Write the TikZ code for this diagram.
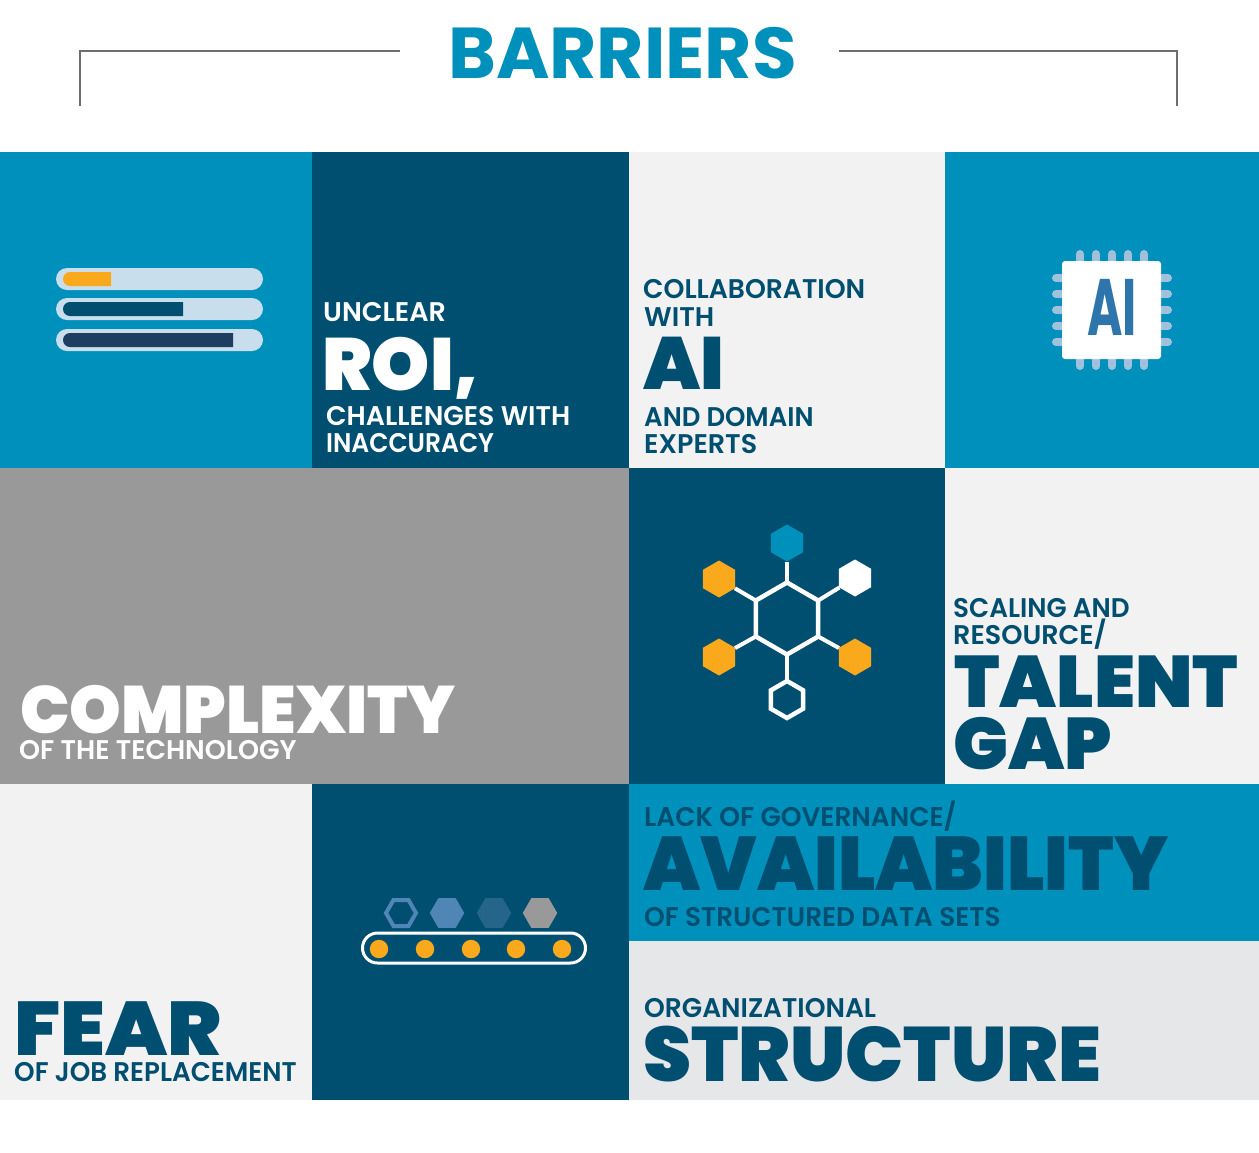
\documentclass[tikz,border=0pt]{standalone}
\usepackage{fontspec}
\usepackage{xcolor}
\setmainfont{Poppins}[BoldFont=* SemiBold]
\newfontfamily\blackfont{Poppins Black}
\newfontfamily\heavyfont{Poppins Bold}
\usetikzlibrary{shapes.geometric,shapes.misc}
\definecolor{tealtile}{HTML}{0090BC}
\definecolor{navytile}{HTML}{004F71}
\definecolor{greytile}{HTML}{999999}
\definecolor{palertile}{HTML}{F2F2F2}
\definecolor{mistile}{HTML}{E6E7E9}
\definecolor{amberdot}{HTML}{F9A91B}
\definecolor{barpale}{HTML}{C8DEED}
\definecolor{barnight}{HTML}{1F3D60}
\definecolor{pinblue}{HTML}{9FC1DE}
\definecolor{chipblue}{HTML}{2E75AB}
\definecolor{hexmid}{HTML}{4F86B5}
\definecolor{hexdeep}{HTML}{25658A}
\definecolor{ruleline}{HTML}{6D6E71}
\tikzset{
  smalltag/.style={anchor=base west,inner sep=0pt,yshift=-0.3pt,font=\bfseries\fontsize{27}{27}\selectfont},
  bigtag/.style={anchor=base west,inner sep=0pt,yshift=-1.5pt,font=\blackfont\fontsize{#1}{#1}\selectfont},
  hexa/.style={regular polygon,regular polygon sides=6,inner sep=0pt,outer sep=0pt,minimum size=#1},
  hexup/.style={hexa=#1,shape border rotate=30},
  bond/.style={draw=white,line width=4pt}
}
\begin{document}
\begin{tikzpicture}[x=1pt,y=-1pt]
    \useasboundingbox (0,0) rectangle (1259,1152);
    \fill[white] (0,0) rectangle (1259,1152);

    % Heading
    \node[anchor=base west,inner sep=0pt,text=tealtile,font=\heavyfont\fontsize{72}{72}\selectfont,xscale=1.008] (title) at (448,78) {BARRIERS};
    \coordinate (ruleA) at (400,50.5);
    \coordinate (ruleB) at (839,50.5);
    \draw[ruleline,line width=2pt] (ruleA) -- (80,50.5) -- (80,106);
    \draw[ruleline,line width=2pt] (ruleB) -- (1177,50.5) -- (1177,106);

    % Tiles
    \fill[tealtile] (0,152) rectangle (312,468);
    \fill[navytile] (312,152) rectangle (629,468);
    \fill[palertile] (629,152) rectangle (945,468);
    \fill[tealtile] (945,152) rectangle (1259,468);
    \fill[greytile] (0,468) rectangle (629,784);
    \fill[navytile] (629,468) rectangle (945,784);
    \fill[palertile] (945,468) rectangle (1259,784);
    \fill[palertile] (0,784) rectangle (312,1100);
    \fill[navytile] (312,784) rectangle (629,1100);
    \fill[tealtile] (629,784) rectangle (1259,941);
    \fill[mistile] (629,941) rectangle (1259,1100);

    % Progress bars
    \foreach \top/\stop/\tint in {268/111/amberdot,298/183/navytile,329/233/barnight} {
        \fill[barpale,rounded corners=11pt] (56,\top) rectangle (263,\top+22);
        \fill[\tint] (\stop,\top+4) [rounded corners=7pt] -- (63,\top+4) -- (63,\top+18) [sharp corners] -- (\stop,\top+18) -- cycle;
    }

    % Chip
    \foreach \k in {0,...,4} {
        \draw[pinblue,line width=8pt,line cap=round] (1080+16*\k,254) -- (1080+16*\k,366);
        \draw[pinblue,line width=8pt,line cap=round] (1056,278+16*\k) -- (1168,278+16*\k);
    }
    \fill[white,rounded corners=3pt] (1062,261) rectangle (1161,359);
    \node[anchor=base west,inner sep=0pt,text=chipblue,font=\heavyfont\fontsize{80}{80}\selectfont,xscale=.6] (chiptext) at (1087,335) {AI};

    % Molecule
    \node[hexup=72pt,draw=white,line width=4.5pt] (core) at (787,618.5) {};
    \node[hexup=37pt,fill=tealtile] (hexN) at (787,543) {};
    \node[hexup=37pt,fill=amberdot] (hexNW) at (719,579) {};
    \node[hexup=37pt,fill=white] (hexNE) at (855,578) {};
    \node[hexup=37pt,fill=amberdot] (hexSW) at (719,657) {};
    \node[hexup=37pt,fill=amberdot] (hexSE) at (855,657) {};
    \node[hexup=37pt,draw=white,line width=4.5pt] (hexS) at (787,699.5) {};
    \draw[bond] (core.corner 1) -- (hexN);
    \draw[bond] (core.corner 2) -- (hexNW);
    \draw[bond] (core.corner 3) -- (hexSW);
    \draw[bond] (core.corner 4) -- (hexS);
    \draw[bond] (core.corner 5) -- (hexSE);
    \draw[bond] (core.corner 6) -- (hexNE);

    % Conveyor
    \node[hexa=30pt,draw=hexmid,line width=4pt] (boxA) at (401,913) {};
    \node[hexa=34.5pt,fill=hexmid] (boxB) at (447,913) {};
    \node[hexa=34.5pt,fill=hexdeep] (boxC) at (494,913) {};
    \node[hexa=34.5pt,fill=greytile] (boxD) at (540,913) {};
    \draw[white,line width=3pt,rounded corners=15pt] (362.5,933) rectangle (585.5,963);
    \foreach \xc in {379,425,471,516,562}
        \fill[amberdot] (\xc,949) circle (9.2);

    % Unclear ROI
    \node[smalltag,text=white] (roiA) at (323,321) {UNCLEAR};
    \node[bigtag=74,text=white,xscale=1.0] (roiB) at (322,389) {ROI,};
    \node[smalltag,text=white,xscale=.99] (roiC) at (326,425) {CHALLENGES WITH};
    \node[smalltag,text=white,xscale=.925] (roiD) at (326,452) {INACCURACY};

    % Collaboration
    \node[smalltag,text=navytile,xscale=.985] (aiA) at (643,298) {COLLABORATION};
    \node[smalltag,text=navytile] (aiB) at (644,326) {WITH};
    \node[bigtag=74,text=navytile] (aiC) at (643,388) {AI};
    \node[smalltag,text=navytile,xscale=.96] (aiD) at (644,426) {AND DOMAIN};
    \node[smalltag,text=navytile] (aiE) at (644,453) {EXPERTS};

    % Complexity
    \node[bigtag=67,text=white,xscale=.98] (cxA) at (20,732) {COMPLEXITY};
    \node[smalltag,text=white,xscale=.99] (cxB) at (19,759) {OF THE TECHNOLOGY};

    % Talent gap
    \node[smalltag,text=navytile,xscale=.97] (gapA) at (953,617) {SCALING AND};
    \node[smalltag,text=navytile] (gapB) at (953,644) {RESOURCE/};
    \node[bigtag=73,text=navytile,xscale=1.012] (gapC) at (954,706) {TALENT};
    \node[bigtag=73,text=navytile] (gapD) at (953,768) {GAP};

    % Availability
    \node[smalltag,text=navytile,xscale=.98] (govA) at (644,826) {LACK OF GOVERNANCE/};
    \node[bigtag=76,text=navytile,xscale=.975] (govB) at (643,888.5) {AVAILABILITY};
    \node[smalltag,text=navytile,xscale=.975] (govC) at (644,926) {OF STRUCTURED DATA SETS};

    % Structure
    \node[smalltag,text=navytile,xscale=.98] (orgA) at (644,1017) {ORGANIZATIONAL};
    \node[bigtag=77,text=navytile] (orgB) at (643,1080) {STRUCTURE};

    % Fear
    \node[bigtag=76,text=navytile,xscale=1.06] (fearA) at (14,1054) {FEAR};
    \node[smalltag,text=navytile,xscale=.97] (fearB) at (14,1081) {OF JOB REPLACEMENT};
\end{tikzpicture}
\end{document}
